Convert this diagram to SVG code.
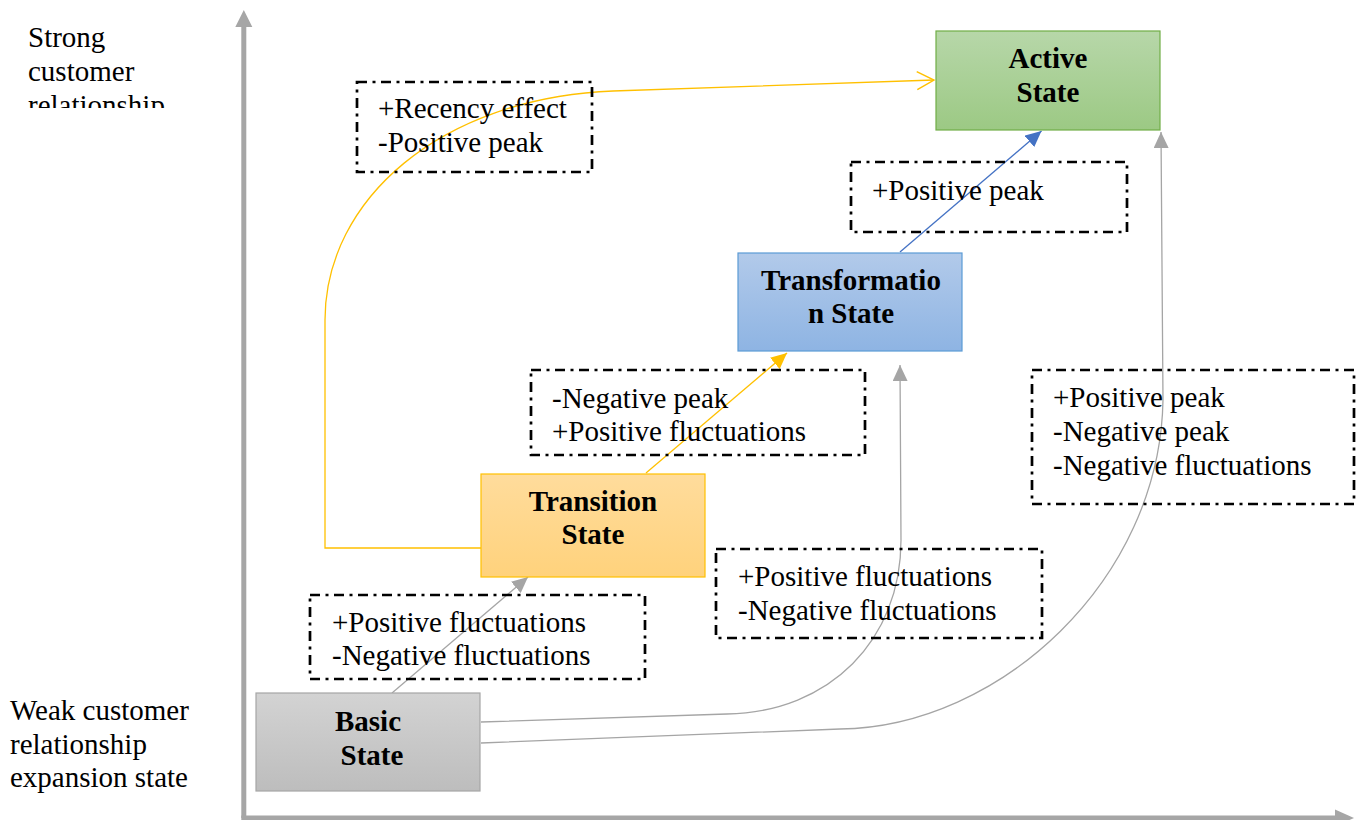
<svg xmlns="http://www.w3.org/2000/svg" width="1362" height="820" viewBox="0 0 1362 820">
  <style>
    .txt { font-family: "Liberation Serif", "Times New Roman", serif; font-size: 29px; fill: #000; }
    .lbl { font-family: "Liberation Serif", "Times New Roman", serif; font-size: 29px; font-weight: bold; fill: #000; text-anchor: middle; }
    .note { fill: none; stroke: #000; stroke-width: 2.7; stroke-dasharray: 10 5.5 3 5.5; }
    .conn { fill: none; stroke-width: 1.3; }
    .axis { fill: none; stroke: #a6a6a6; stroke-width: 5; }
  </style>
  <defs>
    <linearGradient id="gGreen" x1="0" y1="0" x2="0" y2="1">
      <stop offset="0" stop-color="#b7d7a9"/>
      <stop offset="1" stop-color="#9cc984"/>
    </linearGradient>
    <linearGradient id="gBlue" x1="0" y1="0" x2="0" y2="1">
      <stop offset="0" stop-color="#b2caea"/>
      <stop offset="1" stop-color="#8eb4e3"/>
    </linearGradient>
    <linearGradient id="gOrange" x1="0" y1="0" x2="0" y2="1">
      <stop offset="0" stop-color="#ffdc9c"/>
      <stop offset="1" stop-color="#ffd27c"/>
    </linearGradient>
    <linearGradient id="gGray" x1="0" y1="0" x2="0" y2="1">
      <stop offset="0" stop-color="#d3d3d3"/>
      <stop offset="1" stop-color="#bdbdbd"/>
    </linearGradient>
    <marker id="arrGray" markerUnits="userSpaceOnUse" markerWidth="16" markerHeight="15" viewBox="0 0 16 15" refX="16" refY="7.5" orient="auto">
      <path d="M0,0 L16,7.5 L0,15 z" fill="#a5a5a5"/>
    </marker>
    <marker id="arrYellow" markerUnits="userSpaceOnUse" markerWidth="16" markerHeight="15" viewBox="0 0 16 15" refX="16" refY="7.5" orient="auto">
      <path d="M0,0 L16,7.5 L0,15 z" fill="#ffc000"/>
    </marker>
    <marker id="arrBlue" markerUnits="userSpaceOnUse" markerWidth="16" markerHeight="15" viewBox="0 0 16 15" refX="16" refY="7.5" orient="auto">
      <path d="M0,0 L16,7.5 L0,15 z" fill="#4472c4"/>
    </marker>
    <marker id="arrOpenYellow" markerUnits="userSpaceOnUse" markerWidth="20" markerHeight="22" viewBox="-1 -1 20 22" refX="17" refY="9" orient="auto">
      <path d="M0,0 L17,9 L0,18" fill="none" stroke="#ffc000" stroke-width="1.4"/>
    </marker>
    <clipPath id="clipTop">
      <rect x="0" y="0" width="235" height="108"/>
    </clipPath>
  </defs>

  <rect width="1362" height="820" fill="#fff"/>

  <!-- axes -->
  <g id="axes">
    <path class="axis" d="M243.8,818 L243.8,26"/>
    <path d="M235.3,27 L243.8,10 L252.3,27 z" fill="#a6a6a6"/>
    <path class="axis" d="M241.3,818 L1336,818"/>
    <path d="M1335,809.5 L1354,818 L1335,826.5 z" fill="#a6a6a6"/>
  </g>

  <!-- axis captions -->
  <g id="caption-strong" clip-path="url(#clipTop)">
    <text class="txt" x="28" y="47">Strong</text>
    <text class="txt" x="28" y="81">customer</text>
    <text class="txt" x="28" y="115">relationship</text>
  </g>
  <g id="caption-weak">
    <text class="txt" x="10" y="720">Weak customer</text>
    <text class="txt" x="10" y="754">relationship</text>
    <text class="txt" x="10" y="787">expansion state</text>
  </g>

  <!-- connectors -->
  <g id="connectors">
    <path class="conn" stroke="#ffc000" d="M481,548 L325,548 L325,320 C325,200 440,98 613,91 L934,80" marker-end="url(#arrOpenYellow)"/>
    <path class="conn" stroke="#ffc000" d="M646,473 L787,353" marker-end="url(#arrYellow)"/>
    <path class="conn" stroke="#4472c4" d="M900,252 L1041.5,131" marker-end="url(#arrBlue)"/>
    <path class="conn" stroke="#a5a5a5" d="M392,693 L528,577" marker-end="url(#arrGray)"/>
    <path class="conn" stroke="#a5a5a5" d="M481,722 L727,714 C830,712 901,640 901,540 L900,365" marker-end="url(#arrGray)"/>
    <path class="conn" stroke="#a5a5a5" d="M481,743 L840,729 C1000,727 1160,580 1163,400 L1161,132" marker-end="url(#arrGray)"/>
  </g>

  <!-- state nodes -->
  <g id="node-active">
    <rect x="936" y="31" width="224" height="99" fill="url(#gGreen)" stroke="#70ad47" stroke-width="1.2"/>
    <text class="lbl" x="1048" y="68">Active</text>
    <text class="lbl" x="1048" y="102">State</text>
  </g>
  <g id="node-transformation">
    <rect x="738" y="253" width="224" height="98" fill="url(#gBlue)" stroke="#5b9bd5" stroke-width="1.2"/>
    <text class="lbl" x="851" y="290">Transformatio</text>
    <text class="lbl" x="851" y="323">n State</text>
  </g>
  <g id="node-transition">
    <rect x="481" y="474" width="224" height="103" fill="url(#gOrange)" stroke="#ffc000" stroke-width="1.2"/>
    <text class="lbl" x="593" y="511">Transition</text>
    <text class="lbl" x="593" y="544">State</text>
  </g>
  <g id="node-basic">
    <rect x="256" y="693" width="224" height="98" fill="url(#gGray)" stroke="#a6a6a6" stroke-width="1.2"/>
    <text class="lbl" x="368" y="731">Basic</text>
    <text class="lbl" x="372" y="765">State</text>
  </g>

  <!-- factor notes -->
  <g id="note-recency">
    <rect class="note" x="357" y="82" width="235" height="90"/>
    <text class="txt" x="378" y="118">+Recency effect</text>
    <text class="txt" x="378" y="152">-Positive peak</text>
  </g>
  <g id="note-positive-peak">
    <rect class="note" x="851" y="162" width="276" height="70"/>
    <text class="txt" x="872" y="200">+Positive peak</text>
  </g>
  <g id="note-transition-up">
    <rect class="note" x="531" y="370" width="334" height="85"/>
    <text class="txt" x="552" y="408">-Negative peak</text>
    <text class="txt" x="552" y="441">+Positive fluctuations</text>
  </g>
  <g id="note-basic-active">
    <rect class="note" x="1032" y="370" width="322" height="134"/>
    <text class="txt" x="1053" y="407">+Positive peak</text>
    <text class="txt" x="1053" y="441">-Negative peak</text>
    <text class="txt" x="1053" y="475">-Negative fluctuations</text>
  </g>
  <g id="note-basic-transformation">
    <rect class="note" x="716" y="549" width="326" height="89"/>
    <text class="txt" x="738" y="586">+Positive fluctuations</text>
    <text class="txt" x="738" y="620">-Negative fluctuations</text>
  </g>
  <g id="note-basic-transition">
    <rect class="note" x="310" y="595" width="335" height="84"/>
    <text class="txt" x="332" y="632">+Positive fluctuations</text>
    <text class="txt" x="332" y="665">-Negative fluctuations</text>
  </g>
</svg>
